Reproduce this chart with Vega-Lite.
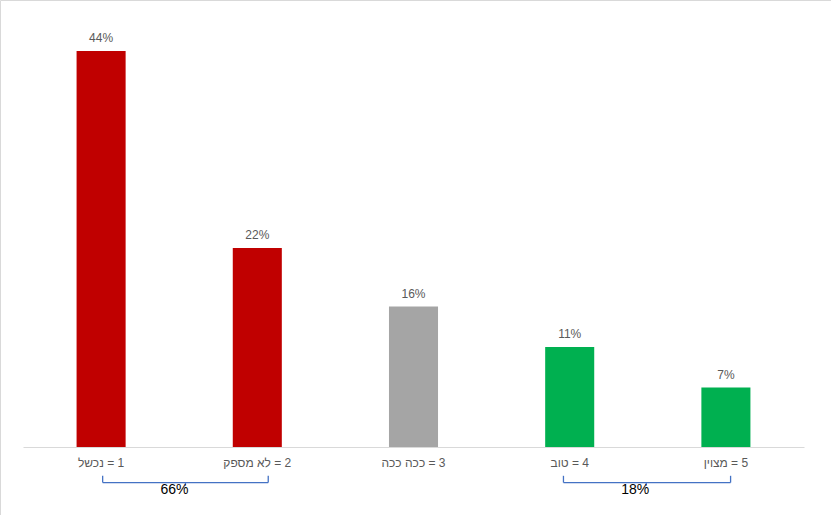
{
  "$schema": "https://vega.github.io/schema/vega-lite/v6.json",
  "width": 831,
  "height": 515,
  "padding": 0,
  "autosize": {"type": "none"},
  "background": "white",
  "config": {
    "view": {"stroke": "#d9d9d9", "strokeWidth": 1},
    "font": "Liberation Sans"
  },
  "datasets": {
    "bars": [
      {"cat": "נכשל\u200E = 1", "value": 0.44, "group": "red"},
      {"cat": "לא מספק\u200E = 2", "value": 0.221, "group": "red"},
      {"cat": "ככה ככה\u200E = 3", "value": 0.156, "group": "grey"},
      {"cat": "טוב\u200E = 4", "value": 0.111, "group": "green"},
      {"cat": "מצוין\u200E = 5", "value": 0.066, "group": "green"}
    ],
    "brackets": [
      {"label": "66%", "from": 0.51, "to": 1.57, "mid": 0.97, "tip": 1.04},
      {"label": "18%", "from": 3.46, "to": 4.53, "mid": 3.92, "tip": 3.99}
    ]
  },
  "layer": [
    {
      "data": {"name": "bars"},
      "layer": [
        {
          "mark": {"type": "bar"},
          "encoding": {
            "x": {
              "field": "cat", "type": "nominal", "sort": null,
              "scale": {"range": [23, 804], "paddingInner": 0.686, "paddingOuter": 0.343},
              "axis": {
                "title": null, "labelAngle": 0, "offset": -68,
                "domainColor": "#d9d9d9", "ticks": false,
                "labelColor": "#595959", "labelFontSize": 12, "labelPadding": 10
              }
            },
            "y": {
              "field": "value", "type": "quantitative",
              "scale": {"domain": [0, 0.45], "range": [447, 42], "nice": false, "zero": true},
              "axis": null
            },
            "color": {
              "field": "group", "type": "nominal",
              "scale": {"domain": ["red", "grey", "green"], "range": ["#C00000", "#A5A5A5", "#00B050"]},
              "legend": null
            }
          }
        },
        {
          "mark": {"type": "text", "baseline": "bottom", "dy": -6, "fontSize": 12, "color": "#595959"},
          "encoding": {
            "x": {"field": "cat", "type": "nominal", "sort": null},
            "y": {"field": "value", "type": "quantitative"},
            "text": {"field": "value", "type": "quantitative", "format": ".0%"}
          }
        }
      ]
    },
    {
      "data": {"name": "brackets"},
      "layer": [
        {
          "mark": {"type": "rule", "color": "#4472C4", "strokeWidth": 1.3},
          "encoding": {
            "x": {"field": "from", "type": "quantitative", "scale": {"domain": [0, 5], "range": [23, 804], "nice": false, "zero": false}, "axis": null},
            "x2": {"field": "to"},
            "y": {"datum": -0.0395, "type": "quantitative"}
          }
        },
        {
          "mark": {"type": "rule", "color": "#4472C4", "strokeWidth": 1.3},
          "encoding": {
            "x": {"field": "from", "type": "quantitative"},
            "y": {"datum": -0.0395, "type": "quantitative"},
            "y2": {"datum": -0.032}
          }
        },
        {
          "mark": {"type": "rule", "color": "#4472C4", "strokeWidth": 1.3},
          "encoding": {
            "x": {"field": "to", "type": "quantitative"},
            "y": {"datum": -0.0395, "type": "quantitative"},
            "y2": {"datum": -0.032}
          }
        },
        {
          "mark": {"type": "rule", "color": "#4472C4", "strokeWidth": 1.3},
          "encoding": {
            "x": {"field": "tip", "type": "quantitative"},
            "y": {"datum": -0.0395, "type": "quantitative"},
            "y2": {"datum": -0.043}
          }
        },
        {
          "mark": {"type": "text", "fontSize": 14, "color": "#000000", "baseline": "middle"},
          "encoding": {
            "x": {"field": "mid", "type": "quantitative"},
            "y": {"datum": -0.0475, "type": "quantitative"},
            "text": {"field": "label"}
          }
        }
      ]
    }
  ],
  "resolve": {"scale": {"x": "independent"}}
}
